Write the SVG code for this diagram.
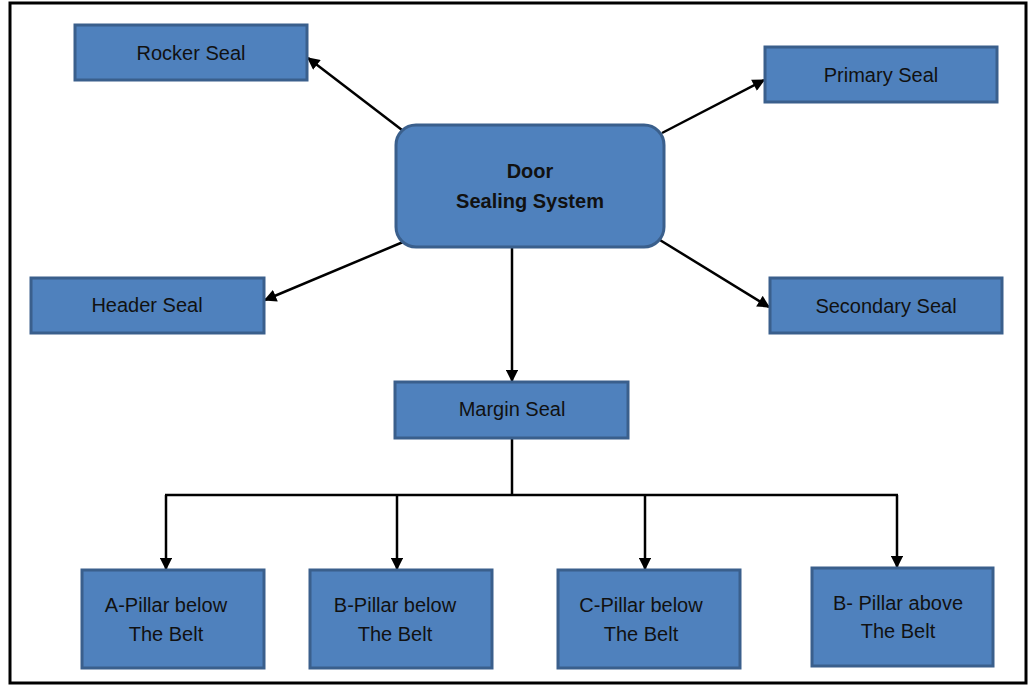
<svg xmlns="http://www.w3.org/2000/svg" width="1030" height="688" viewBox="0 0 1030 688">
<style>
.box{fill:#4F81BD;stroke:#3A5F8C;stroke-width:3}
.t{font-family:"Liberation Sans",Arial,sans-serif;font-size:20px;fill:#111;text-anchor:middle}
.b{font-weight:bold}
.c{stroke:#000;stroke-width:2.5;fill:none}
.a{stroke:#000;stroke-width:2.5;fill:none;marker-end:url(#ah)}
</style>
<defs>
<marker id="ah" viewBox="0 0 10 10" refX="9" refY="5" markerWidth="5.2" markerHeight="5" orient="auto" markerUnits="strokeWidth">
<path d="M0,0 L10,5 L0,10 z" fill="#000"/>
</marker>
</defs>
<rect x="0" y="0" width="1030" height="688" fill="#fff"/>
<rect x="10" y="3" width="1016" height="680" fill="none" stroke="#000" stroke-width="3"/>
<g id="connectors">
<line class="a" x1="402" y1="130" x2="308" y2="58"/>
<line class="a" x1="662" y1="133" x2="764" y2="80"/>
<line class="a" x1="415" y1="237" x2="265" y2="300"/>
<line class="a" x1="655" y1="237" x2="769" y2="307"/>
<line class="a" x1="512" y1="247" x2="512" y2="381"/>
<line class="c" x1="512" y1="439" x2="512" y2="495"/>
<line class="c" x1="165" y1="495" x2="898" y2="495"/>
<line class="a" x1="166" y1="495" x2="166" y2="569"/>
<line class="a" x1="397" y1="495" x2="397" y2="569"/>
<line class="a" x1="645" y1="495" x2="645" y2="569"/>
<line class="a" x1="897" y1="495" x2="897" y2="567"/>
</g>
<g id="door">
<rect class="box" x="396" y="125" width="268" height="122" rx="20"/>
<text class="t b" x="530" y="178">Door</text>
<text class="t b" x="530" y="208">Sealing System</text>
</g>
<g id="rocker">
<rect class="box" x="75" y="25" width="232" height="55"/>
<text class="t" x="191" y="60">Rocker Seal</text>
</g>
<g id="primary">
<rect class="box" x="765" y="47" width="232" height="55"/>
<text class="t" x="881" y="82">Primary Seal</text>
</g>
<g id="header">
<rect class="box" x="31" y="278" width="233" height="55"/>
<text class="t" x="147" y="312">Header Seal</text>
</g>
<g id="secondary">
<rect class="box" x="770" y="278" width="232" height="55"/>
<text class="t" x="886" y="313">Secondary Seal</text>
</g>
<g id="margin">
<rect class="box" x="395" y="382" width="233" height="56"/>
<text class="t" x="512" y="416">Margin Seal</text>
</g>
<g id="apillar">
<rect class="box" x="82" y="570" width="182" height="98"/>
<text class="t" x="166" y="612">A-Pillar below</text>
<text class="t" x="166" y="641">The Belt</text>
</g>
<g id="bpillar">
<rect class="box" x="310" y="570" width="182" height="98"/>
<text class="t" x="395" y="612">B-Pillar below</text>
<text class="t" x="395" y="641">The Belt</text>
</g>
<g id="cpillar">
<rect class="box" x="558" y="570" width="182" height="98"/>
<text class="t" x="641" y="612">C-Pillar below</text>
<text class="t" x="641" y="641">The Belt</text>
</g>
<g id="bpillarabove">
<rect class="box" x="812" y="568" width="181" height="98"/>
<text class="t" x="898" y="610">B- Pillar above</text>
<text class="t" x="898" y="638">The Belt</text>
</g>
</svg>
